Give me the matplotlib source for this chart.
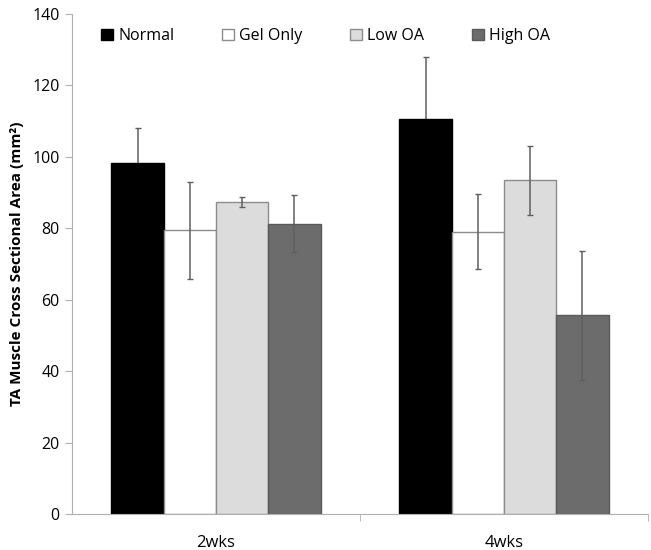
import numpy as np
import matplotlib
matplotlib.use('Agg')
import matplotlib.pyplot as plt

plt.rcParams['font.family'] = ['Open Sans', 'DejaVu Sans']

weeks = ['2wks', '4wks']
groups = ['Normal', 'Gel Only', 'Low OA', 'High OA']

# mean values and error bars
normal = [98.3, 110.6]
gel_only = [79.5, 79.1]
low_oa = [87.4, 93.4]
high_oa = [81.3, 55.6]

normal_err = [9.8, 17.4]
gel_only_err = [13.6, 10.4]
low_oa_err = [1.3, 9.7]
high_oa_err = [8.0, 18.1]

means = [normal, gel_only, low_oa, high_oa]
errs = [normal_err, gel_only_err, low_oa_err, high_oa_err]
faces = ['black', 'white', '#dcdcdc', '#6c6c6c']
edges = ['black', '#8c8c8c', '#8c8c8c', '#5a5a5a']
# the error bar on the black bars sits behind them
err_z = [1.5, 3, 3, 3]

fig = plt.figure(figsize=(6.51, 5.5), dpi=100)
ax = fig.add_axes([0.1106, 0.0655, 0.8848, 0.909])

x = np.arange(len(weeks)) + 0.5
w = 0.1816
for i in range(4):
    pos = x + (i - 1.5) * w
    ax.bar(pos, means[i], width=w, color=faces[i], edgecolor=edges[i],
           linewidth=1, label=groups[i], zorder=2)
    ax.errorbar(pos, means[i], yerr=errs[i], fmt='none', ecolor='#5f5f5f',
                elinewidth=1.1, capsize=2.5, capthick=1, zorder=err_z[i])

ax.set_xlim(0, 2)
ax.set_ylim(0, 140)
ax.set_yticks(range(0, 141, 20))
ax.set_xticks(x)
ax.set_xticklabels(weeks)
ax.set_xticks([1, 2], minor=True)
ax.tick_params(axis='x', which='major', length=0, pad=15, labelsize=12)
ax.tick_params(axis='x', which='minor', length=5, color='#b0b0b0')
ax.tick_params(axis='y', length=5, color='#b0b0b0', labelsize=11.5, pad=4)

for s in ['top', 'right']:
    ax.spines[s].set_visible(False)
for s in ['left', 'bottom']:
    ax.spines[s].set_color('#b0b0b0')

ax.set_ylabel('TA Muscle Cross Sectional Area (mm²)', fontsize=11,
              fontweight='bold', labelpad=6)

ax.legend(loc='center', bbox_to_anchor=(0.44, 0.956), ncol=4, frameon=False,
          fontsize=11.5, handlelength=0.75, handleheight=0.75,
          handletextpad=0.3, columnspacing=3.0)

fig.savefig('out.png', dpi=100)
